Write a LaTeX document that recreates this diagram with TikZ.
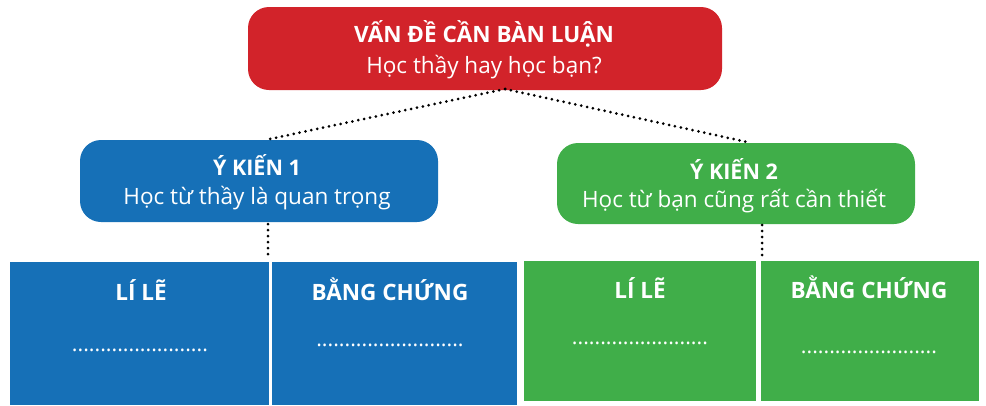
\documentclass[tikz,border=0pt]{standalone}
\usepackage{fontspec}
\setmainfont{Open Sans}
\definecolor{cred}{RGB}{210,35,42}
\definecolor{cblue}{RGB}{22,112,183}
\definecolor{cgreen}{RGB}{64,174,73}
\begin{document}
\begin{tikzpicture}[x=1pt,y=-1pt,
  rbox/.style={draw=none,rounded corners=21pt,inner sep=0pt},
  sqbox/.style={draw=none,inner sep=0pt},
  wtxt/.style={text=white,inner sep=0pt,align=center},
  head/.style={wtxt,anchor=base,font=\fontsize{22.5}{26}\selectfont\bfseries},
  dots/.style={wtxt,font=\fontsize{21.3}{25}\selectfont},
  dotline/.style={black,line width=3pt,line cap=round,dash pattern=on 0pt off 6pt},
]
\useasboundingbox (0,0) rectangle (986,405);
% top
\node[rbox,fill=cred,minimum width=474pt,minimum height=83pt] (top) at (485,48.5) {};
\node[wtxt,font=\fontsize{22.5}{31}\selectfont] (toptxt) at (484,50) {\textbf{VẤN ĐỀ CẦN BÀN LUẬN}\\Học thầy hay học bạn?};
% opinions
\node[rbox,fill=cblue,minimum width=358pt,minimum height=82pt] (y1) at (259,181) {};
\node[wtxt,font=\fontsize{22.5}{29}\selectfont] (y1txt) at (257,182) {{\fontsize{21.5}{29}\selectfont\textbf{Ý KIẾN 1}}\\Học từ thầy là quan trọng};
\node[rbox,fill=cgreen,minimum width=358pt,minimum height=81pt] (y2) at (736,183.5) {};
\node[wtxt,font=\fontsize{22.5}{28}\selectfont] (y2txt) at (734,186) {{\fontsize{21.5}{28}\selectfont\textbf{Ý KIẾN 2}}\\Học từ bạn cũng rất cần thiết};
% lower boxes
\node[sqbox,fill=cblue,minimum width=259pt,minimum height=143pt] (b1) at (139.5,333.5) {};
\node[sqbox,fill=cblue,minimum width=245pt,minimum height=143pt] (b2) at (394.5,333.5) {};
\node[sqbox,fill=cgreen,minimum width=232pt,minimum height=140pt] (g1) at (640,331) {};
\node[sqbox,fill=cgreen,minimum width=218pt,minimum height=140pt] (g2) at (870,331) {};
\node[head] (b1h) at (141,300) {LÍ LẼ};
\node[head] (b2h) at (390,300) {BẰNG CHỨNG};
\node[head] (g1h) at (640,298) {LÍ LẼ};
\node[head] (g2h) at (869,298) {BẰNG CHỨNG};
\node[dots] (b1d) at (140,350) {........................};
\node[dots] (b2d) at (390,345) {..........................};
\node[dots] (g1d) at (640,343) {........................};
\node[dots] (g2d) at (869,352) {........................};
% connectors
\coordinate (apex) at (505,89);
\coordinate (y1top) at (265,140);
\coordinate (y2top) at (747,142);
\coordinate (y1bot) at (268,224);
\coordinate (b12top) at (268,258);
\coordinate (y2bot) at (762,225);
\coordinate (g12top) at (762,257);
\draw[dotline] (apex) -- (y1top);
\draw[dotline] (apex) -- (y2top);
\draw[dotline] (y1bot) -- (b12top);
\draw[dotline] (y2bot) -- (g12top);
\end{tikzpicture}
\end{document}
